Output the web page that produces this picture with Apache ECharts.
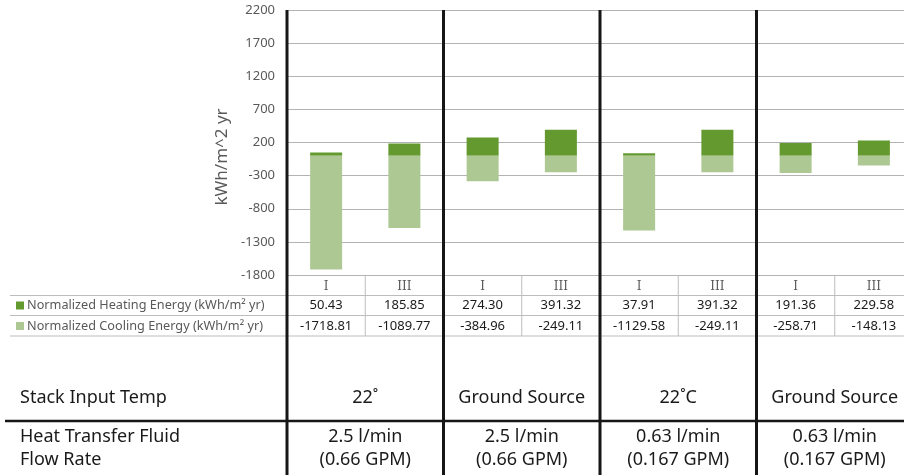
<!DOCTYPE html>
<html>
<head>
<meta charset="utf-8">
<script src="https://cdn.jsdelivr.net/npm/echarts@6/dist/echarts.min.js"></script>
<style>
  html, body { margin: 0; padding: 0; background: #fff; }
  #chart { width: 904px; height: 475px; }
</style>
</head>
<body>
<div id="chart"></div>
<script>
// chart data
const cases = ['I', 'III', 'I', 'III', 'I', 'III', 'I', 'III'];
const heating = [50.43, 185.85, 274.30, 391.32, 37.91, 391.32, 191.36, 229.58];
const cooling = [-1718.81, -1089.77, -384.96, -249.11, -1129.58, -249.11, -258.71, -148.13];
const heatingName = 'Normalized Heating Energy (kWh/m² yr)';
const coolingName = 'Normalized Cooling Energy (kWh/m² yr)';

// rows under the table
const stackTemps = ['22˚', 'Ground Source', '22˚C', 'Ground Source'];
const flowRates = ['2.5 l/min', '2.5 l/min', '0.63 l/min', '0.63 l/min'];
const flowGpm = ['(0.66 GPM)', '(0.66 GPM)', '(0.167 GPM)', '(0.167 GPM)'];

const darkGreen = '#63992f';
const lightGreen = '#adc893';
const grey = '#595959';
const sans = '"Noto Sans", "Open Sans", sans-serif';

const chart = echarts.init(document.getElementById('chart'));

chart.setOption({
    animation: false,
    grid: { left: 287, top: 10, width: 626, height: 265, outerBoundsMode: 'none', containLabel: false },
    xAxis: {
        type: 'category',
        data: cases,
        axisLine: { show: false },
        axisTick: { show: false },
        axisLabel: {
            color: grey,
            fontFamily: '"DejaVu Serif", "Liberation Serif", serif',
            fontSize: 12,
            margin: 6
        }
    },
    yAxis: {
        type: 'value',
        min: -1800,
        max: 2200,
        interval: 500,
        axisLine: { show: false },
        axisTick: { show: false },
        axisLabel: { color: grey, fontSize: 13, fontFamily: sans, margin: 12, formatter: v => String(v) },
        splitLine: { lineStyle: { color: '#b3b3b3', width: 1 } }
    },
    series: [
        {
            name: heatingName,
            type: 'bar',
            stack: 'energy',
            barWidth: 32,
            data: heating,
            itemStyle: { color: darkGreen }
        },
        {
            name: coolingName,
            type: 'bar',
            stack: 'energy',
            barWidth: 32,
            data: cooling,
            itemStyle: { color: lightGreen }
        }
    ]
});

// table / separators built from the axis positions
const px = i => chart.convertToPixel({ xAxisIndex: 0 }, i);
const band = px(1) - px(0);
const edge = i => px(i) - band / 2;
const W = 904;
const g = [];

const line = (x1, y1, x2, y2, color, width) => g.push({
    type: 'line', silent: true, z: 100,
    shape: { x1, y1, x2, y2 },
    style: { stroke: color, lineWidth: width }
});
const text = (x, y, s, opt) => g.push({
    type: 'text', silent: true, z: 101, x, y,
    style: Object.assign({
        text: s, fill: '#1a1a1a', font: '13px ' + sans,
        align: 'center', verticalAlign: 'middle'
    }, opt || {})
});

// table horizontal lines
[295.5, 315.5, 336].forEach(y => line(10, y, W, y, '#bdbdbd', 1));
// thin lines between cases
for (let i = 1; i < cases.length; i += 2) line(edge(i), 275, edge(i), 336, '#bdbdbd', 1);
// thick group separators
for (let i = 0; i < cases.length; i += 2) line(edge(i), 10, edge(i), 475, '#161616', 3);
line(5, 421, W, 421, '#161616', 2.5);

// legend-like row headers
[[heatingName, darkGreen, 305.5], [coolingName, lightGreen, 326]].forEach(([name, color, y]) => {
    g.push({ type: 'rect', silent: true, z: 101, shape: { x: 16, y: y - 4, width: 8, height: 8 }, style: { fill: color } });
    text(27, y, name, { align: 'left', fill: grey, font: '12.7px ' + sans });
});

// value cells
cases.forEach((c, i) => {
    text(px(i), 305.5, heating[i].toFixed(2));
    text(px(i), 326, cooling[i].toFixed(2));
});

// y axis title
g.push({
    type: 'text', silent: true, z: 101, x: 222, y: 157, rotation: Math.PI / 2,
    style: { text: 'kWh/m^2 yr', fill: grey, font: '17px ' + sans, align: 'center', verticalAlign: 'middle' }
});

// bottom rows
const big = '18px ' + sans;
text(20, 398, 'Stack Input Temp', { align: 'left', font: big });
text(20, 437, 'Heat Transfer Fluid', { align: 'left', font: big });
text(20, 460, 'Flow Rate', { align: 'left', font: big });
stackTemps.forEach((s, k) => {
    const cx = edge(2 * k) + band;
    text(cx, 398, s, { font: big });
    text(cx, 437, flowRates[k], { font: big });
    text(cx, 460, flowGpm[k], { font: big });
});

chart.setOption({ graphic: g });
</script>
</body>
</html>
